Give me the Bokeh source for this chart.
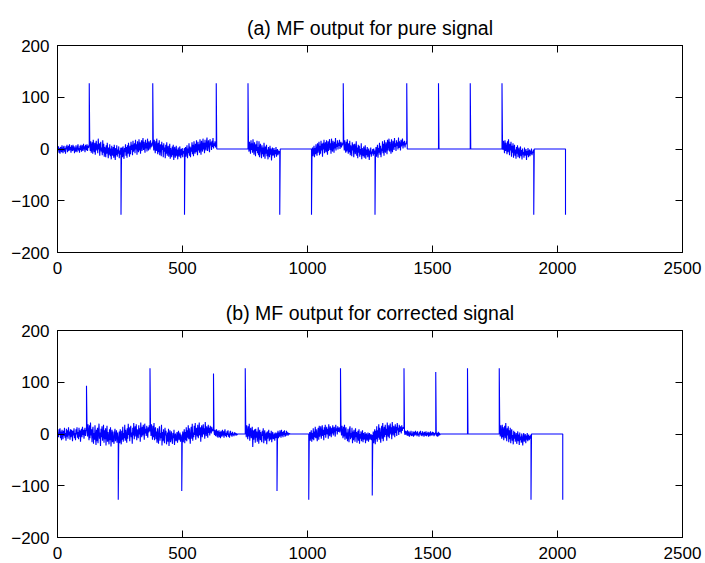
from bokeh.plotting import figure
from bokeh.layouts import column
from bokeh.models import Range1d, FixedTicker, LinearAxis, CustomJSTickFormatter
from bokeh.embed import file_html
from bokeh.resources import INLINE

# ---------------- data ----------------
x_ticks = [0, 500, 1000, 1500, 2000, 2500]
y_ticks = [-200, -100, 0, 100, 200]

title_a = "(a) MF output for pure signal"
title_b = "(b) MF output for corrected signal"

# spike (peak) positions and values of the matched-filter output
a_spike_x = [127, 254, 381, 508, 635, 762, 889, 1016, 1143, 1270, 1397, 1524, 1651, 1778, 1905, 2032]
a_spike_y = [127, -127, 127, -127, 127, 127, -127, -127, 127, -127, 127, 127, 127, 127, -127, -127]

b_spike_x = [116, 243, 370, 497, 624, 751, 878, 1005, 1132, 1259, 1386, 1513, 1640, 1767, 1894, 2021]
b_spike_y = [93, -127, 127, -110, 117, 127, -110, -127, 127, -119, 127, 120, 127, 127, -127, -127]

# noise between peaks, one value every 2 samples (segment k ends at spike k)
a_noise = [
    [-3, 5, -7, 2, -9, 4, 1, -6, 7, -2, -8, 3, 6, -5, 2, -9, 5, -1, 8, -6, 0, 6, -4, 9, -2, 4, -7, 7, 1, -4, 8, -3,
     5, -8, 3, -5, 7, -1, -6, 4, 9, -3, 2, -7, 6, -2, 8, -5, 1, 7, -4, 10, -1, 5, -6, 8, 3, -2, 9, -4, 6, 2, 8, 4],
    [10, -4, 15, -7, 5, 13, -9, 18, 2, -6, 12, -11, 8, 16, -3, 9, -8, 20, -1, 11, -13, 6, 14, -5, 3, -12, 17, -7, 10, -15, 4, -2,
     -16, 7, -9, 12, -4, -18, 3, -11, 9, -14, 1, -20, 6, -8, -13, 4, -17, 8, -6, -21, 2, -12, 7, -15, -1, -9, 5, -18, -3, -11, 2, -8],
    [-11, 3, -16, 5, -8, -19, 2, -6, 9, -13, 4, -17, 7, -9, 12, -4, -15, 6, -10, 14, -2, 8, -12, 16, -5, 3, 11, -8, 18, -1, 9, -11,
     15, 2, -6, 19, -3, 13, -9, 7, 17, -4, 10, 21, -2, 14, 4, -7, 18, 1, 12, -5, 20, 6, -3, 15, 8, -1, 17, 3, 11, 5, 14, 7],
    [13, -3, 18, 4, -8, 15, -4, 20, 2, -10, 12, -6, 17, -12, 5, 9, -14, 14, -2, 7, -16, 11, -5, 3, -18, 8, -9, 13, -13, 1, 6, -15,
     -4, 10, -19, 2, -8, -16, 5, -12, 8, -21, -3, 4, -17, -7, 6, -14, -1, -20, 3, -10, -15, 5, -6, -18, 0, -12, 2, -16, -4, -9, 1, -7],
    [-10, 4, -15, -3, 7, -18, 1, -8, 11, -13, 5, -16, 3, -5, 13, -10, 8, -14, 15, -2, -9, 10, -6, 17, 1, -12, 14, -3, 9, -7, 19, 2,
     -11, 16, 4, -5, 20, -1, 12, -8, 18, 5, -3, 14, 22, -4, 9, 17, 2, -6, 19, 7, 13, -2, 16, 4, 21, 1, 11, 6, 15, 3, 12, 8],
    [0],
    [8, -5, 14, 3, -9, 17, -2, 11, -7, 19, 1, -11, 13, 6, -14, 9, -4, 16, -8, 4, -12, 15, -16, 2, 10, -6, -18, 7, -10, 3, -15, 12,
     -3, -19, 5, -9, 8, -14, -1, -20, 4, -7, -16, 6, -11, 1, -22, -5, 3, -13, -8, 2, -17, -2, -10, 4, -15, -6, 0, -12, -3, -9, -5, -4],
    [0],
    [-8, 3, -14, -4, 6, -16, 2, -10, 9, -5, -13, 11, -7, 4, 14, -12, 6, -9, 16, -3, 10, -15, 12, -1, 18, -8, 5, 13, -6, 17, 2, -11,
     15, -4, 8, 19, -2, 11, -9, 20, 3, -5, 16, 7, -7, 14, 1, 21, -3, 10, 4, 17, -1, 12, 6, 18, 0, 9, 14, 3, 11, 7, 13, 8],
    [12, -3, 17, 2, -7, 14, -5, 19, 4, -9, 11, -6, 16, -12, 7, 1, -14, 13, -3, 9, -16, 5, 10, -10, -2, 15, -13, 3, -18, 8, -7, 6,
     -15, 0, -11, 11, -20, 2, -8, -14, 5, -17, -4, 7, -19, -1, -12, 4, -16, -6, 1, -21, -3, -10, 3, -15, -5, -9, 0, -13, 1, -10, -4, -6],
    [-9, 4, -15, -1, 8, -17, 2, -7, 12, -11, 6, -16, 1, -4, 15, -8, 10, -13, 17, -2, -7, 13, 5, -10, 18, -3, 9, 20, -5, 14, 3, -9,
     19, 1, -6, 16, 8, -2, 21, 4, 11, -4, 17, 6, 13, -1, 22, 2, 15, 8, -3, 18, 5, 12, 20, 1, 14, 7, 16, 3, 11, 9, 15, 8],
    [0],
    [0],
    [0],
    [9, -2, 16, 5, -8, 17, -4, 12, 1, -10, 15, -6, 19, 3, -12, 10, -3, 14, -15, 6, -7, 11, -17, 2, 8, -13, -1, -19, 4, -9, 7, -16,
     -5, 3, -18, -8, 5, -14, -2, -20, 1, -11, -6, -17, 3, -13, -9, 0, -21, -4, -12, 2, -16, -7, -1, -14, -3, -10, 1, -12, -5, -8, -2, -4],
    [0],
]

b_noise = [
    [3, -6, 9, -2, 11, -8, 5, -12, 8, 1, -10, 6, -4, 12, -7, 2, -13, 10, -5, 7, -9, 13, -3, 5, -11, 9, -6, 8, 4, -14,
     6, -3, 11, -8, 2, -12, 9, -1, 13, -7, 4, -10, 12, -5, 7, -15, 3, 10, -6, 14, -2, 8, -9, 5, 12, -4, 7, 9],
    [13, -5, 19, 4, -12, 17, -8, 22, -3, 9, -16, 6, 14, -19, 2, -11, 17, -7, -21, 8, -14, 12, -18, 5, 20, -9, 3, -23, 10, -6, 15, -13,
     -2, 18, -17, 7, -10, 11, -22, 1, 16, -15, 4, -8, -20, 9, -12, 13, -24, -3, 8, -16, 5, -11, -19, 2, 10, -14, -5, 7, -17, 3, -10, -6],
    [-12, 5, -18, 9, -7, -20, 6, -11, 14, -15, 2, -8, 18, -13, 8, -4, -17, 11, -9, 20, -2, 13, -14, 6, 16, -6, 3, -19, 12, -3, 21, -10,
     7, 15, -5, 19, -12, 9, 2, -8, 17, -1, 11, -15, 22, 4, -6, 14, -3, 18, 8, -11, 20, 1, 10, -4, 16, 5, -7, 13, 3, 17, 6, 9],
    [14, -4, 19, 3, -11, 16, -6, 21, -12, 7, 13, -10, 5, -17, 11, -5, -19, 8, 15, -13, 2, -8, 18, -22, 4, -14, 9, -6, -18, 12, -3, 6,
     -20, -9, 3, -15, 10, -23, -1, 7, -16, -5, 5, -12, -19, 2, -8, 8, -21, -4, 1, -14, -10, 4, -17, -2, 6, -12, -7, 3, -15, -1, -9, -5],
    [-11, 5, -16, -3, 9, -18, 4, -12, 13, -14, 7, -7, 17, -10, 11, -4, -19, 6, 14, -9, 20, -13, 3, -6, 16, -2, 21, -11, 8, 12, -5, 18,
     -8, 2, 22, -3, 13, -15, 9, 17, -6, 4, 19, -1, 11, -9, 23, 5, -4, 15, 7, -7, 18, 2, 12, -3, 16, 8, 1, 14, 5, 10, 7, 9],
    [5, -2, 8, -4, 3, 9, -5, 6, -7, 2, 7, -6, 4, -8, 6, -1, -5, 8, -3, 5, -7, 3, 9, -4, 2, -6, 5, -2, 7, -5,
     1, -7, 4, 6, -3, 2, -5, 4, -2, 1, -4, 3, -1, 2, -3, 1, -2, 0],
    [11, -6, 17, 3, -10, 15, -5, 20, -13, 6, 12, -8, -2, 14, -25, 7, -11, 3, 9, -17, 10, -7, 5, -15, -3, 13, -19, 1, 8, -12, 4, -9,
     -16, 6, -4, 11, -18, 0, 7, -13, -6, 3, -20, 5, -9, -1, 8, -14, 2, -11, -5, 6, -16, -2, 4, -10, -7, 1, -13, 3, -8, -4, 2, -6],
    [-4, 6, -8, 3, -5, 7, 1, -7, 8, -3, 4, -6, 5, -2, 7, -5, 2, -4, 6, -1, 3, -3, 2, -1, 1, 0],
    [-9, 4, -13, -1, 7, -15, 2, -10, 11, -12, 5, -6, 14, -8, 9, -3, -14, 6, 12, -11, 16, -5, 3, 15, -9, 1, 17, -4, 8, -12, 13, -2,
     18, -7, 5, 14, -1, 10, -9, 19, 3, -4, 15, 7, -6, 12, 1, 17, -3, 9, 14, 2, -5, 18, 6, 11, -1, 15, 4, 8, 13, 3, 10, 6],
    [11, -3, 16, 4, -8, 14, -5, 18, -11, 7, 13, -9, 3, -14, 10, -4, -16, 9, 15, -10, 2, -7, 12, -18, 5, -12, 8, -2, -15, 11, -6, 4,
     -17, -1, 6, -13, 9, -19, 0, -9, 5, -14, -3, 7, -16, 2, -11, -6, 4, -18, -2, 1, -13, -8, 3, -15, -4, 2, -11, -6, 0, -12, -3, -7],
    [-12, 5, -18, -2, 9, -20, 6, -10, 15, -15, 7, -7, 19, -11, 12, -4, -17, 8, 16, -9, 21, -14, 4, 14, -6, 18, -2, 10, -13, 22, 3, -5,
     17, -8, 11, 20, -1, 13, -10, 23, 5, -3, 16, 9, -6, 19, 2, 14, -4, 21, 7, 12, -2, 18, 4, 15, 9, 1, 17, 6, 13, 10, 14, 9],
    [4, -2, 6, -1, 5, -3, 7, -4, 2, 5, -5, 3, -2, 6, -4, 1, -3, 5, -5, 2, 4, -3, 6, -1, 3, -4, 5, -2, 1, -5, 4, -1,
     6, -3, 2, -4, 5, -2, 3, -5, 4, 0, -3, 5, -4, 2, -2, 4, -5, 3, 1, -4, 5, -2, 2, -3, 4, -1, 3, -4, 2, -2, 3, 1],
    [3, -4, 2, -5, 4, -3, 2, -2, 0],
    [0],
    [10, -5, 17, 2, -9, 18, -6, 13, -12, 5, 16, -8, 21, 1, -14, 11, -3, 15, -16, 7, -10, 12, -18, 3, 9, -13, -2, -20, 6, -9, 4, -15,
     -6, 2, -19, -8, 5, -14, -1, -21, 3, -12, -5, -17, 1, -10, -22, -4, 2, -15, -7, 0, -18, -3, -11, 2, -14, -6, -1, -12, -4, -9, -2, -5],
    [0],
]

STEP = 2
FONT = "Liberation Sans"
BLUE = "#0000FF"


def build_trace(spike_x, spike_y, noise):
    xs, ys = [], []
    start = 0
    for sx, sy, seg in zip(spike_x, spike_y, noise):
        last = seg[-1]
        for i, v in enumerate(seg):
            px = start + 2 + STEP * i
            if px >= sx:
                break
            xs.append(px)
            ys.append(v)
            last = v
        xs.append(sx)
        ys.append(last)
        xs.append(sx)
        ys.append(sy)
        start = sx
    return xs, ys


def make_panel(title, spike_x, spike_y, noise, height, border_top, border_bottom, x_standoff):
    p = figure(width=705, height=height,
               x_range=Range1d(0, 2500), y_range=Range1d(-200, 200),
               output_backend="svg", toolbar_location=None,
               min_border_left=57, min_border_right=23,
               min_border_top=border_top, min_border_bottom=border_bottom,
               background_fill_color="white", border_fill_color="white",
               outline_line_color="black", outline_line_width=1)
    p.title.text = title
    p.title.align = "center"
    p.title.text_font = FONT
    p.title.text_font_size = "19.5px"
    p.title.text_font_style = "normal"
    p.title.text_color = "black"
    p.title.standoff = 13

    p.xgrid.visible = False
    p.ygrid.visible = False

    xs, ys = build_trace(spike_x, spike_y, noise)
    p.line(xs, ys, line_color=BLUE, line_width=1.1)

    top = LinearAxis()
    right = LinearAxis()
    p.add_layout(top, "above")
    p.add_layout(right, "right")

    for ax in p.xaxis:
        ax.ticker = FixedTicker(ticks=x_ticks)
    for ax in p.yaxis:
        ax.ticker = FixedTicker(ticks=y_ticks)

    for ax in list(p.xaxis) + list(p.yaxis):
        ax.major_tick_in = 7
        ax.major_tick_out = 0
        ax.minor_tick_line_color = None
        ax.axis_line_color = "black"
        ax.major_tick_line_color = "black"
        ax.major_label_text_font = FONT
        ax.major_label_text_font_size = "17px"
        ax.major_label_text_color = "black"

    for ax in (top, right):
        ax.formatter = CustomJSTickFormatter(code="return ''")
        ax.major_label_standoff = 0
    p.below[0].major_label_standoff = x_standoff
    p.left[0].major_label_standoff = 8
    return p


pa = make_panel(title_a, a_spike_x, a_spike_y, a_noise, 280, 45, 28, 9)
pb = make_panel(title_b, b_spike_x, b_spike_y, b_noise, 283, 50, 26, 9)

layout = column(pa, pb, spacing=0)
open("out.html", "w").write(file_html(layout, INLINE))
